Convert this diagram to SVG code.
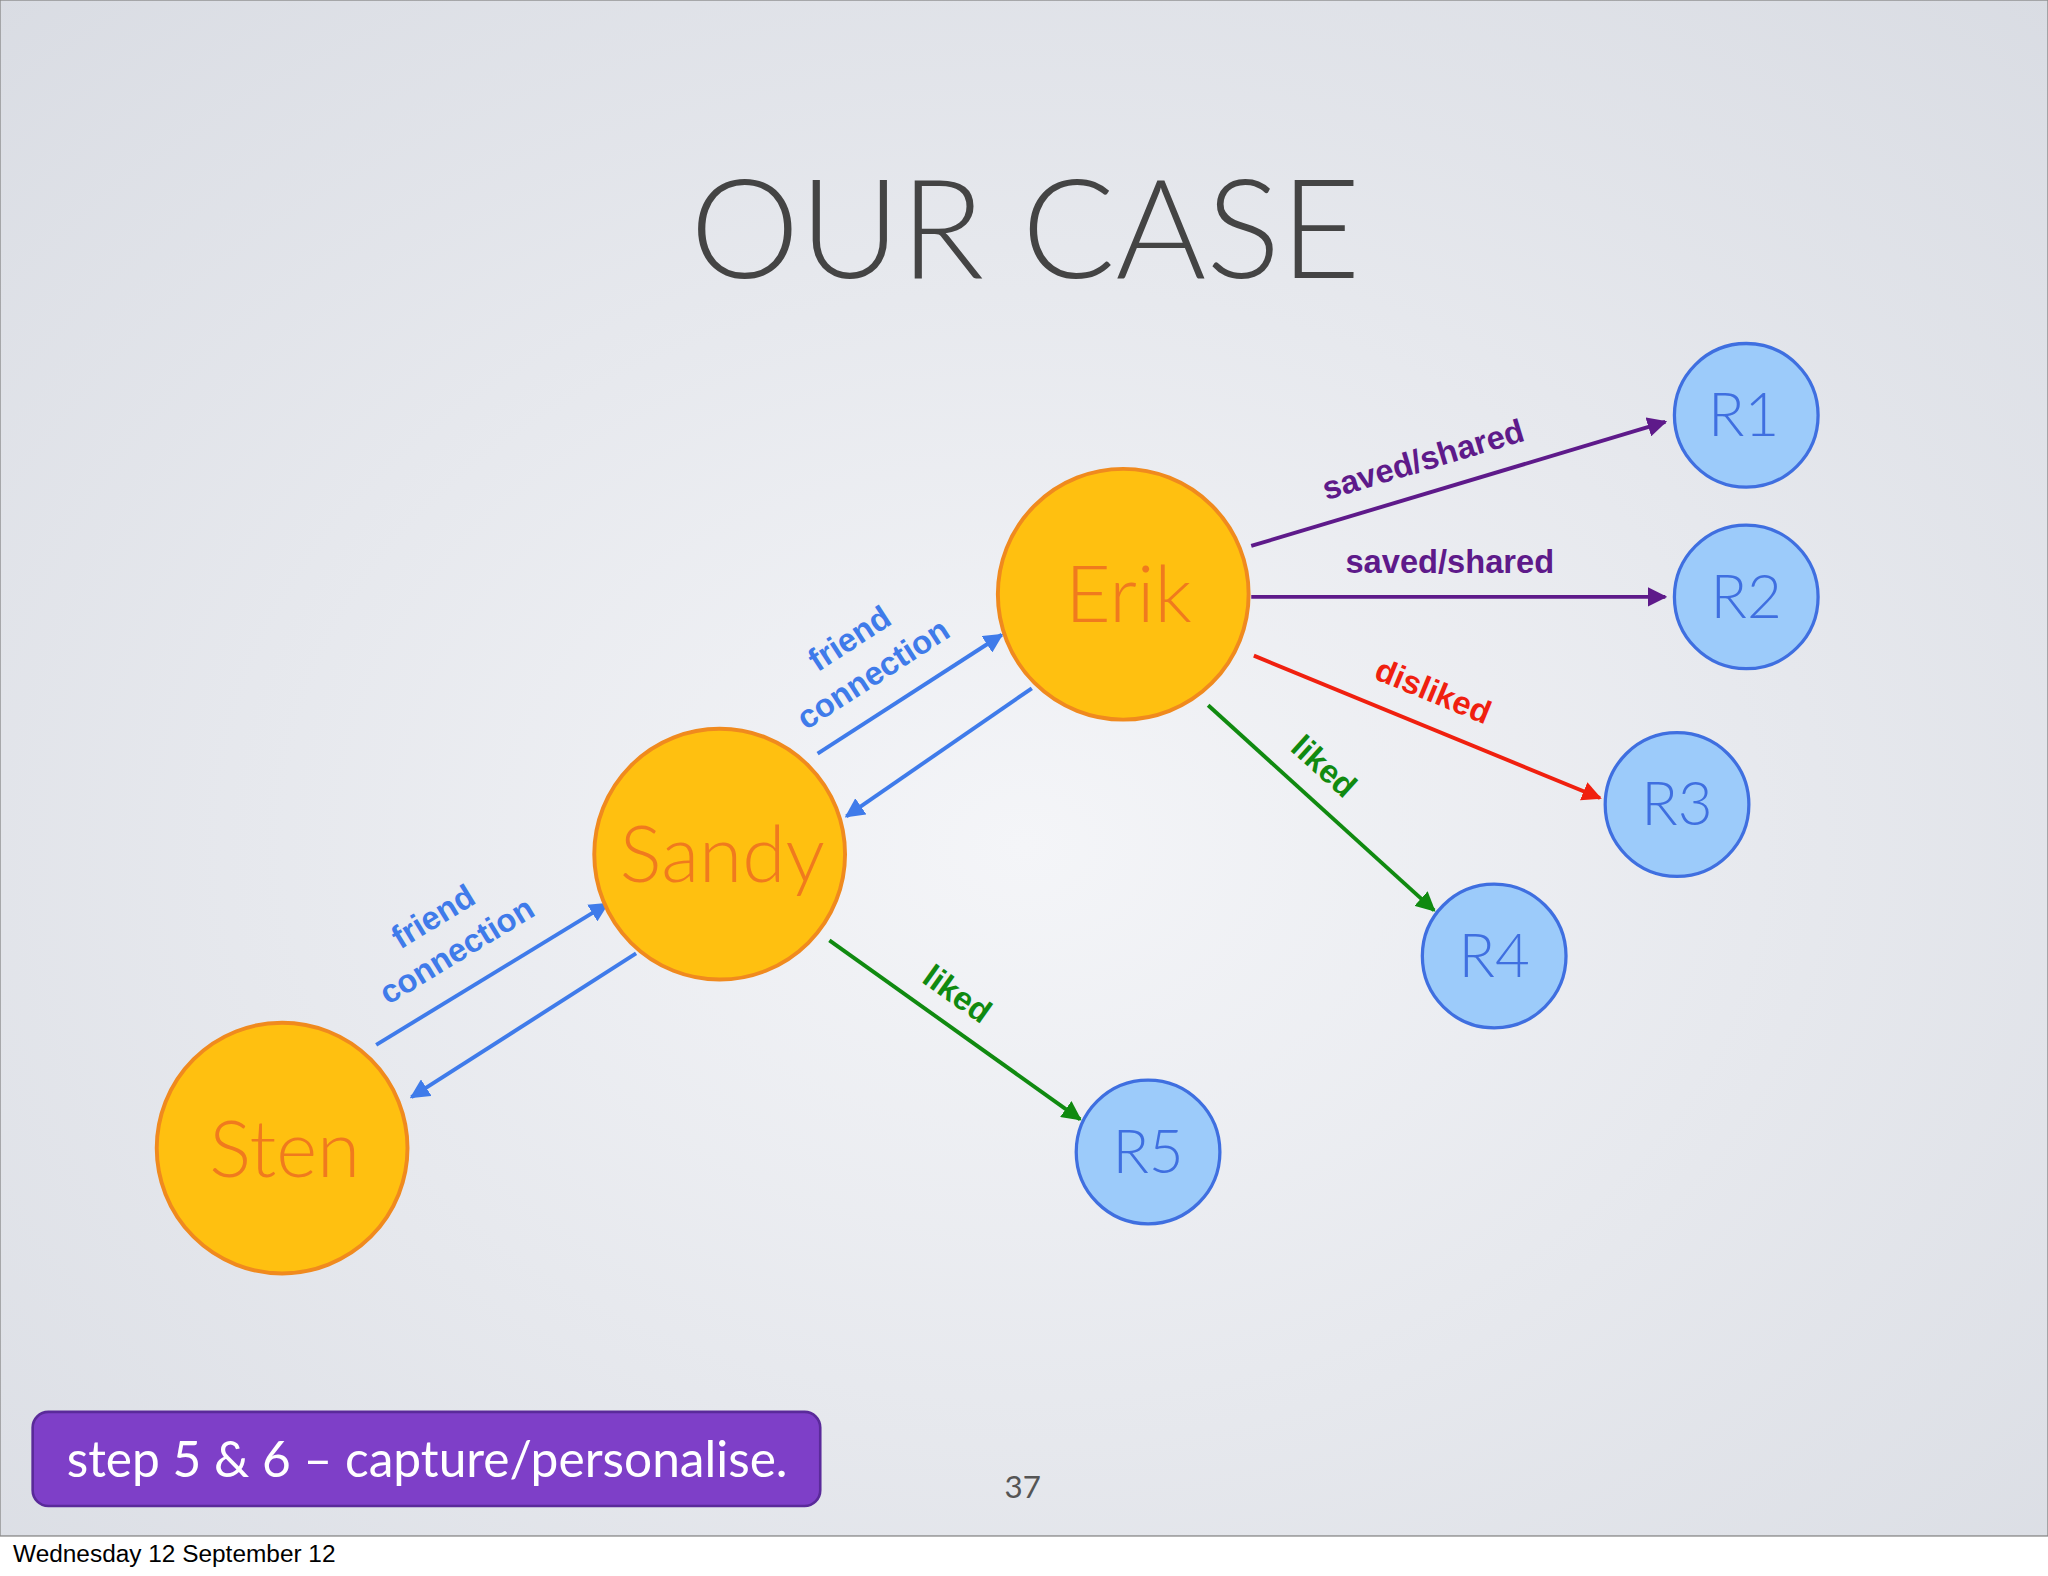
<svg xmlns="http://www.w3.org/2000/svg" width="2048" height="1576" viewBox="0 0 2048 1576">
<defs>
<radialGradient id="bg" cx="50%" cy="55%" r="75%"><stop offset="0" stop-color="#F4F5F8"/><stop offset="1" stop-color="#D9DCE3"/></radialGradient>
<marker id="mp" viewBox="0 0 10 10" refX="9" refY="5" markerWidth="5" markerHeight="5" orient="auto"><path d="M0,0L10,5L0,10z" fill="#5E1A8A"/></marker>
<marker id="mr" viewBox="0 0 10 10" refX="9" refY="5" markerWidth="5" markerHeight="5" orient="auto"><path d="M0,0L10,5L0,10z" fill="#F0200F"/></marker>
<marker id="mg" viewBox="0 0 10 10" refX="9" refY="5" markerWidth="5" markerHeight="5" orient="auto"><path d="M0,0L10,5L0,10z" fill="#108A10"/></marker>
<marker id="mb" viewBox="0 0 10 10" refX="9" refY="5" markerWidth="5" markerHeight="5" orient="auto"><path d="M0,0L10,5L0,10z" fill="#3F7BEA"/></marker>
</defs>
<style>
.p{fill:#FFC010;stroke:#F08A1E;stroke-width:3}
.r{fill:#9CCBFA;stroke:#3F6FE0;stroke-width:2.5}
.pt{font-family:Lato,"Open Sans",sans-serif;font-weight:300;font-size:60px;fill:#F07A1E;text-anchor:middle}
.rt{font-family:Lato,"Open Sans",sans-serif;font-weight:300;font-size:46px;fill:#3F6FE0;text-anchor:middle}
.l{font-family:"Liberation Sans",Arial,sans-serif;font-weight:bold;font-size:25px;text-anchor:middle}
line{stroke-width:3}
</style>
<rect width="2048" height="1576" fill="#fff"/>
<g transform="scale(1.3061)">
<rect x="0" y="0" width="1568" height="1176" fill="url(#bg)" stroke="#888" stroke-width="1"/>
<text x="785" y="213" font-family="Lato,'Open Sans',sans-serif" font-weight="300" font-size="106" fill="#444" text-anchor="middle">OUR CASE</text>
<g id="connectors">
<line x1="958" y1="418" x2="1275" y2="323" stroke="#5E1A8A" marker-end="url(#mp)"/>
<line x1="958" y1="457" x2="1275" y2="457" stroke="#5E1A8A" marker-end="url(#mp)"/>
<line x1="960" y1="502" x2="1225" y2="611" stroke="#F0200F" marker-end="url(#mr)"/>
<line x1="925" y1="540" x2="1098" y2="697" stroke="#108A10" marker-end="url(#mg)"/>
<line x1="635" y1="720" x2="827" y2="857" stroke="#108A10" marker-end="url(#mg)"/>
<line x1="626" y1="577" x2="767" y2="486" stroke="#3F7BEA" marker-end="url(#mb)"/>
<line x1="790" y1="527" x2="648" y2="625" stroke="#3F7BEA" marker-end="url(#mb)"/>
<line x1="288" y1="800" x2="465" y2="692" stroke="#3F7BEA" marker-end="url(#mb)"/>
<line x1="487" y1="730" x2="315" y2="840" stroke="#3F7BEA" marker-end="url(#mb)"/>
<text class="l" fill="#5E1A8A" transform="translate(1092,360) rotate(-16.7)">saved/shared</text>
<text class="l" fill="#5E1A8A" x="1110" y="439">saved/shared</text>
<text class="l" fill="#F0200F" transform="translate(1094,537) rotate(22.4)">disliked</text>
<text class="l" fill="#108A10" transform="translate(1008,593) rotate(42)">liked</text>
<text class="l" fill="#108A10" transform="translate(728,768) rotate(35.5)">liked</text>
<text class="l" fill="#3F7BEA" transform="translate(655,496) rotate(-33)">friend</text>
<text class="l" fill="#3F7BEA" transform="translate(673,523) rotate(-33)">connection</text>
<text class="l" fill="#3F7BEA" transform="translate(336,709) rotate(-31.4)">friend</text>
<text class="l" fill="#3F7BEA" transform="translate(354,735) rotate(-31.4)">connection</text>
</g>
<g id="erik"><circle class="p" cx="860" cy="455" r="96"/><text class="pt" x="864" y="476">Erik</text></g>
<g id="sandy"><circle class="p" cx="551" cy="654" r="96"/><text class="pt" x="553" y="675">Sandy</text></g>
<g id="sten"><circle class="p" cx="216" cy="879" r="96"/><text class="pt" x="218" y="901">Sten</text></g>
<g id="r1"><circle class="r" cx="1337" cy="318" r="55"/><text class="rt" x="1335" y="334">R1</text></g>
<g id="r2"><circle class="r" cx="1337" cy="457" r="55"/><text class="rt" x="1337" y="473">R2</text></g>
<g id="r3"><circle class="r" cx="1284" cy="616" r="55"/><text class="rt" x="1284" y="632">R3</text></g>
<g id="r4"><circle class="r" cx="1144" cy="732" r="55"/><text class="rt" x="1144" y="748">R4</text></g>
<g id="r5"><circle class="r" cx="879" cy="882" r="55"/><text class="rt" x="879" y="898">R5</text></g>
<g id="step"><rect x="25" y="1081" width="603" height="72" rx="12" fill="#7E3FC8" stroke="#5A2A9A" stroke-width="2"/>
<text x="327" y="1131" font-family="Lato,'Open Sans',sans-serif" font-size="38" fill="#fff" text-anchor="middle">step 5 &amp; 6 – capture/personalise.</text></g>
<text x="783" y="1147" font-family="Lato,'Open Sans',sans-serif" font-size="24" fill="#555" text-anchor="middle">37</text>
<text x="10" y="1196" font-family="'Liberation Sans',Arial,sans-serif" font-size="18.7" fill="#000">Wednesday 12 September 12</text>
</g>
</svg>
